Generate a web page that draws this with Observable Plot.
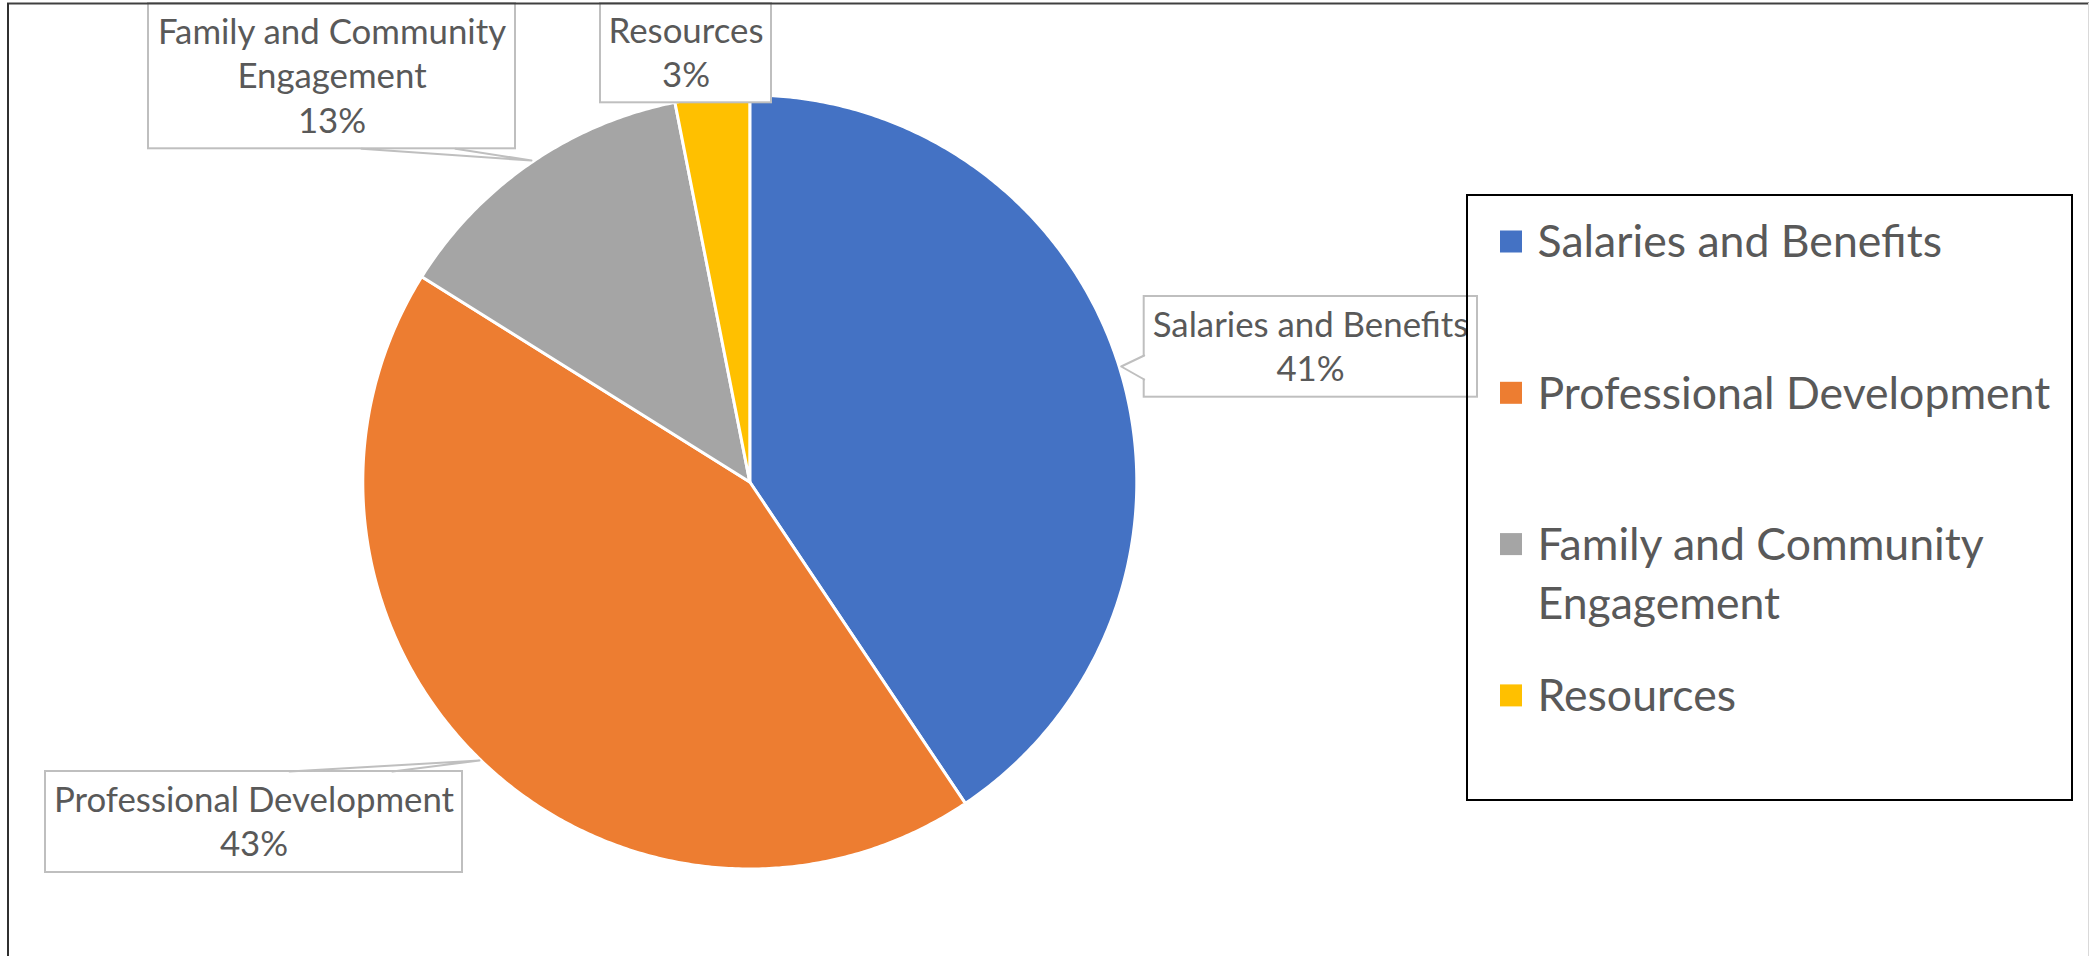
<!DOCTYPE html>
<html><head><meta charset="utf-8">
<script src="https://cdn.jsdelivr.net/npm/d3@7"></script>
<script src="https://cdn.jsdelivr.net/npm/@observablehq/plot@0.6"></script>
<style>
html,body{margin:0;padding:0;background:#fff;}
#chart{width:2089px;height:956px;}
</style></head><body><div id="chart"></div>
<script>
// ---- data ----
const categories = ["Salaries and Benefits", "Professional Development", "Family and Community Engagement", "Resources"];
const shares = [40.6, 43.3, 13.0, 3.1];
const percentLabels = ["41%", "43%", "13%", "3%"];
const colors = ["#4472C4", "#ED7D31", "#A5A5A5", "#FFC000"];
const labelLines = [["Salaries and Benefits"], ["Professional Development"], ["Family and Community", "Engagement"], ["Resources"]];
const legendLines = [["Salaries and Benefits"], ["Professional Development"], ["Family and Community", "Engagement"], ["Resources"]];

// ---- layout ----
const W = 2089, H = 956, CX = 749.3, CY = 481.5, R = 387;
const TEXT = "#595959", BOXSTROKE = "#bfbfbf";
const LABEL_FS = 34.8, LABEL_LH = 44.5;
const LEG_FS = 44.6, LEG_LH = 59.5;

// callout boxes: [x1, y1, x2, y2], centre x, first baseline, pointer
const callouts = [
  {box: [1143.7, 296, 1477, 396.7], cx: 1310, base: 336, ptr: [[1143.7, 355], [1120.7, 366], [1143.7, 379]], dir: [1, 0]},
  {box: [45, 771, 462, 872], cx: 253.5, base: 811, ptr: [[289, 771], [479, 760], [392, 771]], dir: [0, 1]},
  {box: [148, 3, 515, 148.3], cx: 331.5, base: 43.3, ptr: [[361, 148.3], [531, 160], [455, 148.3]], dir: [0, -1]},
  {box: [600, 3, 771, 102.3], cx: 685.5, base: 42.3, ptr: null, dir: null}
];
const legendBox = [1467, 195, 2072, 800];
const legendFirst = 241.5, legendStep = 151.3, swX = 1500, swS = 22, legTextX = 1537;

// ---- slice polygons from data ----
const total = d3.sum(shares);
let cum = 0;
const slicePts = [];
categories.forEach((c, i) => {
  const a0 = cum / total, a1 = (cum + shares[i]) / total;
  cum += shares[i];
  slicePts.push({cat: c, x: CX, y: CY});
  const n = Math.max(2, Math.ceil((a1 - a0) * 720));
  for (let k = 0; k <= n; k++) {
    const t = 2 * Math.PI * (a0 + (a1 - a0) * k / n);
    slicePts.push({cat: c, x: CX + R * Math.sin(t), y: CY - R * Math.cos(t)});
  }
});

// ---- callout marks data ----
const boxes = callouts.map((c, i) => ({i, x1: c.box[0], y1: c.box[1], x2: c.box[2], y2: c.box[3]}));
const ptrFill = [], ptrLine = [];
callouts.forEach((c, i) => {
  if (!c.ptr) return;
  const [dx, dy] = c.dir;
  c.ptr.forEach((p, k) => {
    const inset = (k === 1) ? 0 : 2;
    ptrFill.push({i, x: p[0] + dx * inset, y: p[1] - dy * inset});
    ptrLine.push({i, x: p[0], y: p[1]});
  });
});
const labelText = [];
callouts.forEach((c, i) => {
  const lines = [...labelLines[i], percentLabels[i]];
  lines.forEach((t, k) => labelText.push({text: t, x: c.cx, y: c.base + k * LABEL_LH}));
});

// ---- legend data ----
const swatches = categories.map((c, i) => {
  const cy = legendFirst + i * legendStep;
  return {cat: c, x1: swX, x2: swX + swS, y1: cy - swS / 2, y2: cy + swS / 2};
});
const legendText = [];
legendLines.forEach((lines, i) => {
  const cy = legendFirst + i * legendStep;
  lines.forEach((t, k) => legendText.push({text: t, x: legTextX, y: cy + LEG_FS * 0.345 + k * LEG_LH}));
});

const plot = Plot.plot({
  width: W, height: H, margin: 0,
  x: {domain: [0, W], range: [0, W], axis: null},
  y: {domain: [0, H], range: [0, H], axis: null},
  color: {domain: categories, range: colors},
  style: {fontFamily: "Lato, 'Open Sans', sans-serif", background: "white", overflow: "visible"},
  marks: [
    Plot.line(slicePts, {x: "x", y: "y", z: "cat", fill: "cat", stroke: "white", strokeWidth: 3, curve: "linear-closed", strokeLinejoin: "round"}),
    Plot.rect(boxes, {x1: "x1", x2: "x2", y1: "y1", y2: "y2", fill: "white", stroke: BOXSTROKE, strokeWidth: 2}),
    Plot.line(ptrFill, {x: "x", y: "y", z: "i", fill: "white", stroke: null, curve: "linear-closed"}),
    Plot.line(ptrLine, {x: "x", y: "y", z: "i", stroke: BOXSTROKE, strokeWidth: 2}),
    Plot.text(labelText, {x: "x", y: "y", text: "text", textAnchor: "middle", lineAnchor: "bottom", fontSize: LABEL_FS, fill: TEXT}),
    Plot.rect([legendBox], {x1: d => d[0], y1: d => d[1], x2: d => d[2], y2: d => d[3], fill: "none", stroke: "black", strokeWidth: 2}),
    Plot.rect(swatches, {x1: "x1", x2: "x2", y1: "y1", y2: "y2", fill: "cat"}),
    Plot.text(legendText, {x: "x", y: "y", text: "text", textAnchor: "start", lineAnchor: "bottom", fontSize: LEG_FS, fill: TEXT}),
    // outer chart frame
    Plot.ruleY([3], {x1: 7, x2: W, stroke: "#404040", strokeWidth: 2}),
    Plot.ruleX([7.5], {y1: 3, y2: H, stroke: "#303030", strokeWidth: 2}),
    Plot.ruleX([W - 1], {y1: 3, y2: H, stroke: "#d9d9d9", strokeWidth: 1})
  ]
});
document.getElementById("chart").appendChild(plot);
</script>
</body></html>
